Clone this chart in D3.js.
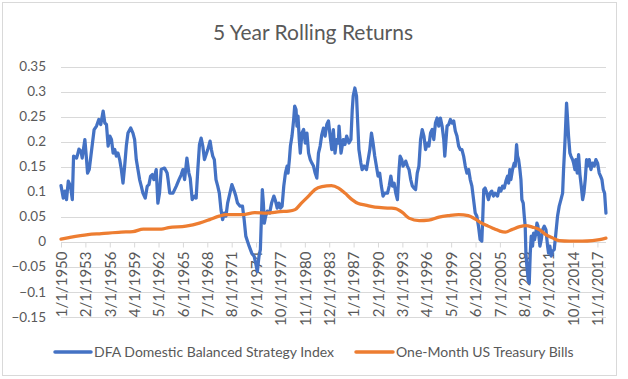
<!DOCTYPE html>
<html>
<head>
<meta charset="utf-8">
<script src="https://cdn.jsdelivr.net/npm/d3@7"></script>
<style>
  html, body { margin: 0; padding: 0; background: #fff; }
  svg { display: block; }
  text { font-family: Lato, "Open Sans", sans-serif; fill: #595959; }
</style>
</head>
<body>
<svg id="chart" width="628" height="379"></svg>
<script>
// ---------------- data ----------------
const chartTitle = "5 Year Rolling Returns";
const seriesNames = ["DFA Domestic Balanced Strategy Index", "One-Month US Treasury Bills"];
const seriesColors = ["#4472c4", "#ed7d31"];

const xTickLabels = ["1/1/1950","2/1/1953","3/1/1956","4/1/1959","5/1/1962","6/1/1965","7/1/1968",
  "8/1/1971","9/1/1974","10/1/1977","11/1/1980","12/1/1983","1/1/1987","2/1/1990","3/1/1993",
  "4/1/1996","5/1/1999","6/1/2002","7/1/2005","8/1/2008","9/1/2011","10/1/2014","11/1/2017"];
const firstDate = "1/1/1950";
const lastDate = "12/1/2018";
const yTicks = [-0.15, -0.1, -0.05, 0, 0.05, 0.1, 0.15, 0.2, 0.25, 0.3, 0.35];

const dfaYears = [
 1950.00,1950.29,1950.50,1950.70,1950.92,1951.20,1951.43,1951.59,1951.97,1952.10,1952.27,1952.52,1952.68,
 1953.02,1953.23,1953.36,1953.57,1953.78,1954.19,1954.49,1954.78,1955.03,1955.33,1955.54,1955.75,1955.96,
 1956.17,1956.38,1956.59,1956.80,1957.00,1957.21,1957.42,1957.63,1957.84,1958.05,1958.26,1958.47,1958.81,
 1959.10,1959.31,1959.52,1959.73,1959.94,1960.15,1960.36,1960.65,1960.91,1961.12,1961.33,1961.54,1961.74,
 1962.04,1962.25,1962.46,1962.67,1963.09,1963.42,1963.54,1963.75,1964.16,1964.58,1964.92,1965.21,1965.42,
 1965.63,1965.92,1966.17,1966.34,1966.59,1966.88,1967.09,1967.30,1967.51,1967.72,1967.93,1968.14,1968.35,
 1968.56,1968.85,1969.02,1969.19,1969.39,1969.60,1969.82,1970.02,1970.23,1970.44,1970.65,1970.86,1971.07,
 1971.36,1971.61,1971.91,1972.11,1972.32,1972.62,1972.95,1973.16,1973.37,1973.58,1973.79,1974.12,1974.42,
 1974.62,1974.83,1975.04,1975.21,1975.46,1975.59,1975.71,1975.88,1976.09,1976.38,1976.63,1976.92,1977.13,
 1977.34,1977.55,1977.75,1977.96,1978.17,1978.38,1978.59,1978.71,1978.88,1979.01,1979.21,1979.42,1979.55,
 1979.72,1979.84,1979.97,1980.13,1980.26,1980.47,1980.68,1980.89,1981.10,1981.31,1981.52,1981.72,1981.93,
 1982.14,1982.35,1982.56,1982.77,1982.98,1983.19,1983.40,1983.61,1983.82,1984.03,1984.24,1984.44,1984.65,
 1984.86,1985.07,1985.16,1985.41,1985.70,1985.91,1986.12,1986.41,1986.66,1986.83,1986.95,1987.16,1987.37,
 1987.50,1987.67,1987.92,1988.08,1988.34,1988.63,1988.84,1989.05,1989.26,1989.46,1989.67,1989.88,1990.09,
 1990.30,1990.51,1990.72,1990.93,1991.29,1991.50,1991.71,1991.91,1992.12,1992.33,1992.54,1992.75,1992.88,
 1993.09,1993.25,1993.38,1993.59,1993.80,1994.01,1994.22,1994.43,1994.63,1994.84,1995.05,1995.26,1995.47,
 1995.68,1995.89,1996.10,1996.31,1996.52,1996.73,1996.94,1997.14,1997.35,1997.56,1997.77,1997.98,1998.19,
 1998.40,1998.53,1998.69,1998.82,1999.03,1999.24,1999.45,1999.66,1999.86,2000.07,2000.28,2000.49,2000.70,
 2000.91,2001.12,2001.33,2001.54,2001.75,2001.96,2002.17,2002.38,2002.58,2002.79,2003.00,2003.21,2003.34,
 2003.46,2003.63,2003.84,2004.05,2004.26,2004.47,2004.68,2004.88,2005.20,2005.42,2005.63,2005.84,2006.05,
 2006.26,2006.47,2006.60,2006.76,2006.89,2007.10,2007.31,2007.44,2007.61,2007.73,2007.86,2008.03,2008.16,
 2008.28,2008.45,2008.58,2008.70,2008.79,2008.91,2009.08,2009.21,2009.34,2009.46,2009.63,2009.76,2009.88,
 2010.05,2010.18,2010.31,2010.43,2010.56,2010.73,2010.90,2011.11,2011.32,2011.53,2011.66,2011.82,2011.99,
 2012.16,2012.37,2012.58,2012.79,2013.00,2013.22,2013.43,2013.55,2013.68,2013.76,2013.93,2014.06,2014.18,
 2014.35,2014.48,2014.69,2014.82,2014.99,2015.11,2015.28,2015.45,2015.62,2015.79,2015.96,2016.12,2016.29,
 2016.46,2016.59,2016.80,2017.01,2017.22,2017.43,2017.64,2017.85,2018.06,2018.23,2018.40,2018.57,2018.74,
 2018.91];
const dfaValues = [
 0.112,0.087,0.101,0.084,0.121,0.111,0.084,0.171,0.167,0.174,0.185,0.181,0.167,
 0.204,0.164,0.137,0.144,0.171,0.224,0.231,0.244,0.234,0.261,0.237,0.234,0.191,
 0.211,0.204,0.177,0.184,0.171,0.177,0.164,0.144,0.117,0.151,0.191,0.217,0.227,
 0.217,0.204,0.164,0.144,0.124,0.111,0.097,0.087,0.111,0.114,0.131,0.134,0.124,
 0.144,0.077,0.097,0.144,0.147,0.137,0.124,0.097,0.097,0.111,0.124,0.134,0.144,
 0.124,0.167,0.137,0.127,0.084,0.091,0.087,0.144,0.194,0.207,0.191,0.164,0.174,
 0.184,0.201,0.184,0.171,0.164,0.124,0.111,0.097,0.064,0.044,0.057,0.051,0.077,
 0.097,0.114,0.101,0.091,0.077,0.071,0.071,0.044,0.011,0.001,-0.009,-0.023,-0.029,
 -0.043,-0.060,-0.029,-0.016,0.104,0.077,0.037,0.051,0.061,0.057,0.077,0.091,0.081,
 0.067,0.077,0.067,0.071,0.111,0.137,0.151,0.137,0.164,0.191,0.211,0.244,0.271,
 0.264,0.231,0.251,0.204,0.177,0.217,0.224,0.197,0.217,0.177,0.164,0.157,0.151,
 0.137,0.127,0.177,0.191,0.214,0.227,0.211,0.234,0.241,0.211,0.184,0.224,0.177,
 0.204,0.197,0.231,0.177,0.204,0.194,0.211,0.197,0.204,0.264,0.291,0.307,0.291,
 0.244,0.184,0.157,0.144,0.151,0.144,0.164,0.184,0.217,0.197,0.171,0.151,0.131,
 0.137,0.111,0.091,0.097,0.097,0.111,0.131,0.111,0.117,0.097,0.084,0.144,0.171,
 0.164,0.151,0.154,0.161,0.151,0.144,0.124,0.111,0.107,0.104,0.137,0.151,0.204,
 0.224,0.211,0.184,0.197,0.191,0.217,0.224,0.204,0.237,0.247,0.231,0.247,0.231,
 0.204,0.171,0.204,0.231,0.234,0.244,0.237,0.241,0.221,0.211,0.191,0.184,0.184,
 0.171,0.151,0.137,0.144,0.124,0.111,0.084,0.057,0.051,0.031,0.004,0.001,0.051,
 0.104,0.107,0.097,0.084,0.097,0.101,0.091,0.097,0.091,0.107,0.101,0.111,0.107,
 0.121,0.131,0.117,0.144,0.124,0.144,0.157,0.151,0.194,0.171,0.164,0.144,0.124,
 0.084,0.077,0.051,0.031,-0.023,-0.049,-0.076,-0.083,-0.023,0.011,-0.009,0.017,0.004,
 0.017,0.037,0.031,0.011,-0.009,0.004,0.024,0.031,0.024,-0.009,-0.023,-0.009,-0.029,
 -0.019,-0.016,0.017,0.051,0.071,0.084,0.097,0.144,0.184,0.211,0.277,0.244,0.211,
 0.177,0.171,0.164,0.157,0.144,0.164,0.137,0.174,0.134,0.111,0.084,0.097,0.124,
 0.164,0.151,0.164,0.144,0.157,0.151,0.164,0.157,0.137,0.131,0.124,0.104,0.097,
 0.057];

const tbillYears = [
 1950.0,1951.0,1953.4,1955.1,1957.6,1959.1,1960.4,1961.8,1962.7,1963.6,1965.8,1967.5,1968.8,1970.0,
 1970.9,1973.0,1974.5,1976.0,1977.7,1978.8,1979.6,1980.4,1981.3,1982.1,1983.0,1984.2,1985.1,1985.9,
 1986.8,1987.6,1988.5,1989.7,1991.6,1992.3,1993.2,1994.0,1995.3,1996.5,1997.8,1999.0,2000.3,2001.5,
 2002.4,2003.2,2004.0,2004.9,2005.5,2006.2,2007.0,2008.0,2008.8,2009.6,2010.5,2011.3,2012.2,2013.0,
 2014.3,2015.9,2017.2,2018.1,2018.91];
const tbillValues = [
 0.005,0.008,0.014,0.016,0.019,0.020,0.025,0.025,0.025,0.028,0.031,0.037,0.044,0.051,
 0.054,0.054,0.058,0.057,0.060,0.061,0.064,0.077,0.091,0.104,0.110,0.112,0.107,0.097,
 0.084,0.076,0.073,0.069,0.067,0.066,0.058,0.047,0.042,0.043,0.049,0.052,0.054,0.052,
 0.045,0.037,0.031,0.025,0.021,0.019,0.024,0.030,0.032,0.029,0.024,0.014,0.007,0.002,
 0.001,0.001,0.002,0.004,0.007];

// ---------------- drawing ----------------
const W = 628, H = 379;
const plot = { left: 61, right: 606, top: 66.5, bottom: 316.7 };
const toYear = s => { const [m, d, y] = s.split("/").map(Number); return y + (m - 1) / 12; };

const svg = d3.select("#chart");
svg.append("rect").attr("x", 0).attr("y", 0).attr("width", W).attr("height", H).attr("fill", "#fff");
svg.append("rect").attr("x", 2.5).attr("y", 2.5).attr("width", 614).attr("height", 373)
  .attr("fill", "none").attr("stroke", "#d9d9d9").attr("stroke-width", 1);

const x = d3.scaleLinear().domain([toYear(firstDate), toYear(lastDate)]).range([plot.left, plot.right]);
const y = d3.scaleLinear().domain([-0.15, 0.35]).range([plot.bottom, plot.top]);

// gridlines
svg.append("g").selectAll("line").data(yTicks).join("line")
  .attr("x1", plot.left).attr("x2", plot.right)
  .attr("y1", d => Math.round(y(d)) + 0.5).attr("y2", d => Math.round(y(d)) + 0.5)
  .attr("stroke", "#d9d9d9").attr("stroke-width", 1);

// y axis labels
const yAxis = d3.axisLeft(y).tickValues(yTicks).tickSize(0).tickPadding(0)
  .tickFormat(d => d3.format("")(+d.toFixed(2)));
const gy = svg.append("g").attr("transform", `translate(${46},0)`).call(yAxis);
gy.select(".domain").remove();
gy.selectAll("text").attr("font-size", 13.5).attr("fill", "#595959")
  .style("font-family", "Lato, sans-serif");

// x axis at zero with ticks and rotated labels
const y0 = Math.round(y(0)) + 0.5;
const xAxis = d3.axisBottom(x).tickValues(xTickLabels.map(toYear)).tickSize(5)
  .tickFormat((d, i) => xTickLabels[i]);
const gx = svg.append("g").attr("transform", `translate(0,${y0})`).call(xAxis);
gx.select(".domain").attr("stroke", "#d9d9d9").attr("d", `M${plot.left},0H${plot.right}`);
gx.selectAll(".tick line").attr("stroke", "#d9d9d9");
gx.selectAll(".tick text")
  .attr("font-size", 15).attr("fill", "#595959").style("font-family", "Lato, sans-serif")
  .attr("text-anchor", "end")
  .attr("transform", "rotate(-90)")
  .attr("x", -9).attr("y", 0).attr("dy", "0.35em");

// lines
const dfa = d3.zip(dfaYears, dfaValues);
const tb = d3.zip(tbillYears, tbillValues);
svg.append("path").datum(dfa).attr("fill", "none").attr("stroke", seriesColors[0])
  .attr("stroke-width", 3.25).attr("stroke-linejoin", "round").attr("stroke-linecap", "round")
  .attr("d", d3.line().x(d => x(d[0])).y(d => y(d[1])).curve(d3.curveLinear));
svg.append("path").datum(tb).attr("fill", "none").attr("stroke", seriesColors[1])
  .attr("stroke-width", 3.25).attr("stroke-linejoin", "round").attr("stroke-linecap", "round")
  .attr("d", d3.line().x(d => x(d[0])).y(d => y(d[1])).curve(d3.curveMonotoneX));

// title
svg.append("text").attr("x", 313).attr("y", 40).attr("text-anchor", "middle")
  .attr("font-size", 21).text(chartTitle);

// legend
const legendY = 352;
const legendItems = [{ x1: 55, x2: 91, tx: 94 }, { x1: 356, x2: 393, tx: 396 }];
legendItems.forEach((p, i) => {
  svg.append("line").attr("x1", p.x1).attr("x2", p.x2).attr("y1", legendY).attr("y2", legendY)
    .attr("stroke", seriesColors[i]).attr("stroke-width", 3.5).attr("stroke-linecap", "round");
  svg.append("text").attr("x", p.tx).attr("y", legendY).attr("dy", "0.35em")
    .attr("font-size", 14).text(seriesNames[i]);
});
</script>
</body>
</html>
